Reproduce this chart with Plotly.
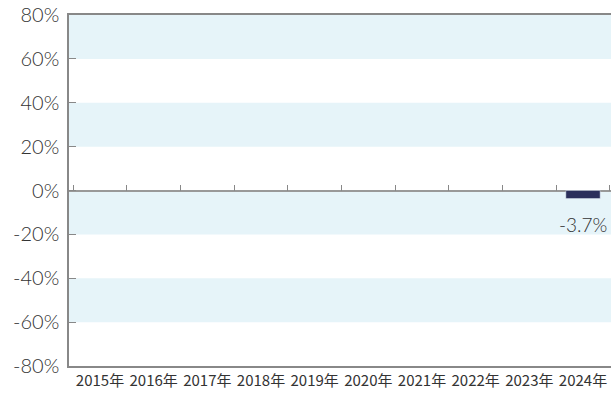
import plotly.graph_objects as go

years = ["2015年", "2016年", "2017年", "2018年", "2019年", "2020年", "2021年", "2022年", "2023年", "2024年"]
values = [None, None, None, None, None, None, None, None, None, -3.7]
labels = ["", "", "", "", "", "", "", "", "", "-3.7%"]
y_ticks = [80, 60, 40, 20, 0, -20, -40, -60, -80]
y_tick_text = ["80%", "60%", "40%", "20%", "0%", "-20%", "-40%", "-60%", "-80%"]
bands = [(60, 80), (20, 40), (-20, 0), (-60, -40)]

fig = go.Figure()
fig.add_trace(go.Bar(
    x=years, y=values,
    marker=dict(color="#2B2F5B"), width=0.64, cliponaxis=False,
    showlegend=False, hoverinfo="skip",
))
fig.add_trace(go.Scatter(x=years, y=[None]*len(years), xaxis="x2", showlegend=False, hoverinfo="skip"))

for yr, v, lab in zip(years, values, labels):
    if lab:
        fig.add_annotation(x=yr, y=v, text=lab, showarrow=False, yanchor="top", xanchor="center",
                           yshift=-12, font=dict(size=19, color="#333333", family="Lato", weight=300))

shapes = []
for lo, hi in bands:
    shapes.append(dict(type="rect", xref="paper", yref="y", x0=0, x1=1, y0=lo, y1=hi,
                       fillcolor="#E6F4F9", line=dict(width=0), layer="below"))
fig.update_layout(
    width=614, height=401,
    margin=dict(l=69, r=0, t=15, b=35, autoexpand=False),
    paper_bgcolor="white", plot_bgcolor="white",
    shapes=shapes,
    font=dict(family="Lato", color="#333333"),
    yaxis=dict(range=[-80, 80], tickvals=y_ticks, ticktext=y_tick_text, automargin=False,
               showgrid=False, zeroline=True, zerolinecolor="#999999", zerolinewidth=1.5,
               showline=True, linecolor="#888888", linewidth=1.5, mirror=True,
               ticks="inside", ticklen=7, tickcolor="#888888", ticklabelstandoff=4,
               tickfont=dict(size=20, color="#333333", family="Lato", weight=300)),
    xaxis=dict(showgrid=False, showline=True, linecolor="#888888", linewidth=1.5, mirror=True,
               ticks="", automargin=False,
               tickfont=dict(size=15, color="#333333", family="Liberation Sans Narrow, Noto Sans CJK JP")),
    xaxis2=dict(overlaying="x", anchor="free", position=0.5, side="bottom", automargin=False,
                showgrid=False, showline=False, showticklabels=False,
                ticks="inside", ticklen=6, tickcolor="#888888", tickson="boundaries",
                matches="x"),
    bargap=0.36,
)
fig.write_html("out.html", config={"displayModeBar": False},
               post_script="document.body.style.margin='0';document.body.style.overflow='hidden';")
